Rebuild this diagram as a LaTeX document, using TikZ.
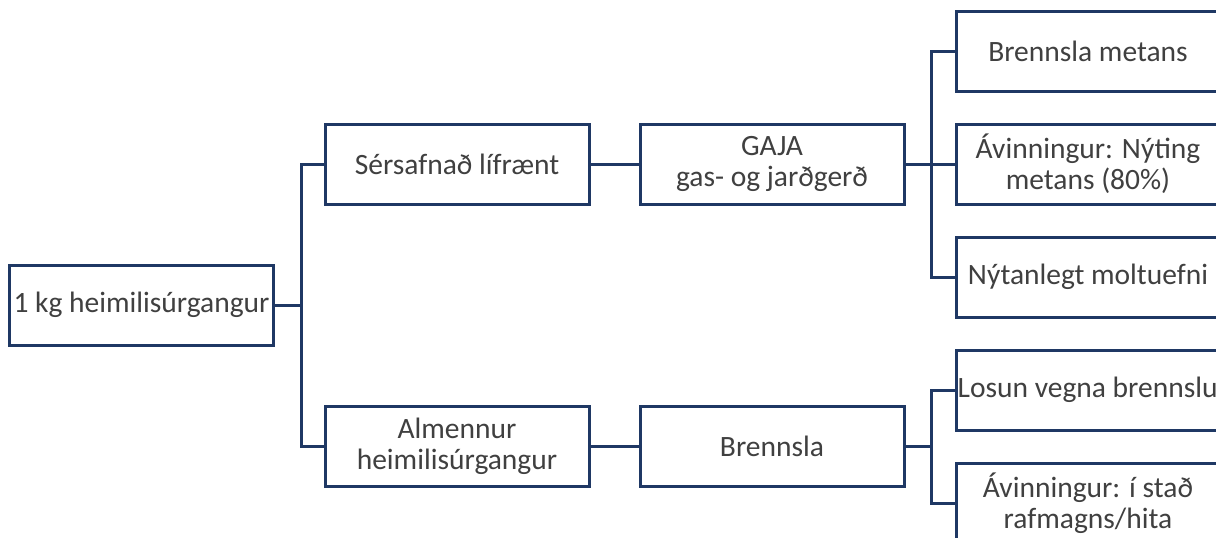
\documentclass[tikz,border=0pt]{standalone}
\usepackage{fontspec}
\setmainfont{Carlito}
\definecolor{navy}{RGB}{31,56,100}
\definecolor{txt}{RGB}{64,64,64}
\tikzset{
  box/.style={draw=navy, line width=3pt, fill=white, minimum width=264pt, minimum height=80pt,
    inner sep=0pt, align=center, text=txt, font=\fontsize{29.5}{31}\selectfont},
  lbl/.style={text=txt, align=center, inner sep=0pt, font=\fontsize{29.5}{31}\selectfont},
  conn/.style={draw=navy, line width=3pt},
}
\begin{document}
\begin{tikzpicture}[x=1pt,y=-1pt]
\useasboundingbox (0,0) rectangle (1216,538);
\clip (0,0) rectangle (1216,538);
% nodes
\node[box] (root) at (141.5,305) {1 kg heimilisúrgangur};
\node[box] (s1) at (457,164) {Sérsafnað lífrænt};
\node[box] (s2) at (457,446.5) {Almennur\\heimilisúrgangur};
\node[box] (gaja) at (772,164) {GAJA\\gas- og jarðgerð};
\node[box] (bren) at (772,446.5) {Brennsla};
\node[box] (r1) at (1088,51) {Brennsla metans};
\node[box] (r2) at (1088,164) {Ávinningur: Nýting\\metans (80\%)};
\node[box] (r3) at (1088,277) {Nýtanlegt moltuefni};
\node[box] (r4) at (1088,390) {};
\node[box] (r5) at (1088,503) {Ávinningur: í stað\\rafmagns/hita};
\node[lbl, anchor=west] (t4) at ([xshift=3pt]r4.west) {Losun vegna brennslu};
% connectors
\coordinate (j0) at ([xshift=26pt]root.east);
\draw[conn] (root.east) -- (j0);
\draw[conn] (j0) |- (s1.west);
\draw[conn] (j0) |- (s2.west);
\draw[conn] (s1.east) -- (gaja.west);
\draw[conn] (s2.east) -- (bren.west);
\coordinate (j1) at ([xshift=26pt]gaja.east);
\draw[conn] (gaja.east) -- (j1);
\draw[conn] (j1) |- (r1.west);
\draw[conn] (j1) |- (r2.west);
\draw[conn] (j1) |- (r3.west);
\coordinate (j2) at ([xshift=26pt]bren.east);
\draw[conn] (bren.east) -- (j2);
\draw[conn] (j2) |- (r4.west);
\draw[conn] (j2) |- (r5.west);
\end{tikzpicture}
\end{document}
